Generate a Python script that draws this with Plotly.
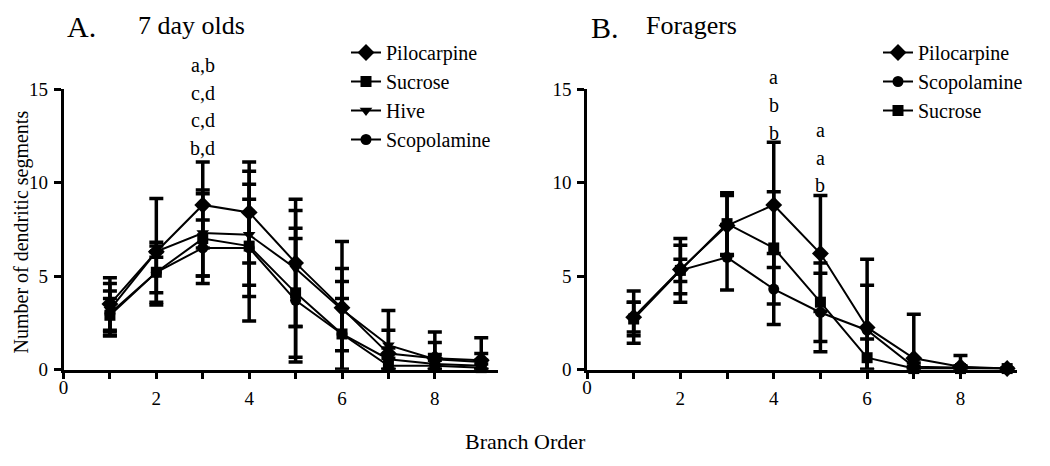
import numpy as np
import plotly.graph_objects as go

branch = [1, 2, 3, 4, 5, 6, 7, 8, 9]

# Panel A: 7 day olds
a_pilo = [3.5, 6.3, 8.8, 8.4, 5.7, 3.3, 0.85, 0.6, 0.5]
a_pilo_err = [1.4, 2.85, 2.3, 2.7, 3.4, 3.55, 1.25, 1.4, 1.2]
a_sucr = [2.9, 5.2, 7.0, 6.6, 4.1, 1.9, 0.2, 0.2, 0.1]
a_sucr_err = [0.9, 1.6, 2.4, 4.0, 3.45, 2.8, 0.4, 0.3, 0.2]
a_hive = [3.2, 6.3, 7.3, 7.2, 5.4, 3.2, 1.3, 0.55, 0.4]
a_hive_err = [1.4, 0.3, 2.3, 2.7, 3.1, 2.2, 1.85, 0.9, 0.45]
a_scop = [3.0, 5.2, 6.5, 6.5, 3.7, 1.9, 0.55, 0.3, 0.2]
a_scop_err = [1.2, 1.1, 1.5, 2.6, 3.3, 1.9, 0.6, 0.5, 0.3]

# Panel B: Foragers
b_pilo = [2.8, 5.35, 7.7, 8.8, 6.2, 2.25, 0.6, 0.15, 0.05]
b_pilo_err = [1.4, 1.3, 1.6, 3.35, 3.1, 3.65, 2.35, 0.6, 0.0]
b_scop = [2.8, 5.3, 6.0, 4.3, 3.05, 2.1, 0.15, 0.1, 0.05]
b_scop_err = [0.8, 0.6, 1.75, 1.9, 2.1, 2.4, 0.2, 0.1, 0.0]
b_sucr = [2.7, 5.3, 7.8, 6.5, 3.6, 0.63, 0.05, 0.05, 0.05]
b_sucr_err = [0.9, 1.7, 1.65, 3.0, 2.1, 1.0, 0.1, 0.1, 0.0]

x_ticks = [0, 1, 2, 3, 4, 5, 6, 7, 8]
x_labels_even = ["2", "4", "6", "8"]
y_ticks = [0, 5, 10, 15]

letters_a = ["a,b", "c,d", "c,d", "b,d"]
letters_b4 = ["a", "b", "b"]
letters_b5 = ["a", "a", "b"]

FONT = "Liberation Serif"
W, H = 1050, 466
OX, OY = 8, 8  # page body offset


def fx(px):
    return (px - OX) / W


def fy(py):
    return 1 - (py - OY) / H


fig = go.Figure()


def add_series(name, y, err, symbol, xa, ya, legend, msize=11):
    y = np.array(y, dtype=float)
    err = np.array(err, dtype=float)
    fig.add_trace(go.Scatter(
        x=branch, y=y, name=name, mode="lines+markers",
        xaxis=xa, yaxis=ya, legend=legend, legendgroup=legend + name,
        line=dict(color="black", width=2),
        marker=dict(symbol=symbol, size=msize, color="black"),
        error_y=dict(type="data", array=err, arrayminus=np.minimum(err, y),
                     color="black", thickness=3.5, width=7, symmetric=False),
        cliponaxis=False,
    ))


add_series("Pilocarpine", a_pilo, a_pilo_err, "diamond", "x", "y", "legend", 13)
add_series("Sucrose", a_sucr, a_sucr_err, "square", "x", "y", "legend")
add_series("Hive", a_hive, a_hive_err, "triangle-down", "x", "y", "legend")
add_series("Scopolamine", a_scop, a_scop_err, "circle", "x", "y", "legend")

add_series("Pilocarpine", b_pilo, b_pilo_err, "diamond", "x2", "y2", "legend2", 13)
add_series("Scopolamine", b_scop, b_scop_err, "circle", "x2", "y2", "legend2")
add_series("Sucrose", b_sucr, b_sucr_err, "square", "x2", "y2", "legend2")

ydom = [fy(369.5), fy(89)]
dom_a = [fx(63.5), fx(497.5)]
dom_b = [fx(587), fx(1016.5)]
rng_a = [0, 9.35]
rng_b = [0, 9.2]

axis_common = dict(showgrid=False, zeroline=False, showline=True, linecolor="black",
                   linewidth=2.5, ticks="outside", tickcolor="black", tickwidth=2.5,
                   ticklen=7, tickfont=dict(family=FONT, size=19, color="black"),
                   automargin=False)
label_axis = dict(showgrid=False, zeroline=False, showline=False, ticks="", side="bottom",
                  automargin=False, tickvals=[2, 4, 6, 8], ticktext=x_labels_even,
                  ticklabelstandoff=15, tickfont=dict(family=FONT, size=19, color="black"))

xlab0 = ["0"] + [""] * 8
fig.update_layout(
    xaxis=dict(domain=dom_a, range=rng_a, anchor="y", tickvals=x_ticks, ticktext=xlab0,
               ticklabelstandoff=-8, **axis_common),
    yaxis=dict(domain=ydom, range=[0, 15], anchor="x", tickvals=y_ticks,
               ticklabelstandoff=2, **axis_common),
    xaxis2=dict(domain=dom_b, range=rng_b, anchor="y2", tickvals=x_ticks, ticktext=xlab0,
                ticklabelstandoff=-8, **axis_common),
    yaxis2=dict(domain=ydom, range=[0, 15], anchor="x2", tickvals=y_ticks,
                ticklabelstandoff=2, **axis_common),
    xaxis3=dict(domain=dom_a, range=rng_a, anchor="y", overlaying="x", **label_axis),
    xaxis4=dict(domain=dom_b, range=rng_b, anchor="y2", overlaying="x2", **label_axis),
    width=W, height=H, margin=dict(l=0, r=0, t=0, b=0, pad=0, autoexpand=False),
    plot_bgcolor="white", paper_bgcolor="white", showlegend=True,
    legend=dict(x=fx(346), y=fy(33), xanchor="left", yanchor="top",
                font=dict(family=FONT, size=20, color="black"), tracegroupgap=0,
                bgcolor="rgba(0,0,0,0)", itemwidth=30),
    legend2=dict(x=fx(878), y=fy(33), xanchor="left", yanchor="top",
                 font=dict(family=FONT, size=20, color="black"), tracegroupgap=0,
                 bgcolor="rgba(0,0,0,0)", itemwidth=30),
)

# invisible traces so the overlay label axes render
fig.add_trace(go.Scatter(x=[None], y=[None], xaxis="x3", yaxis="y", showlegend=False,
                         hoverinfo="skip"))
fig.add_trace(go.Scatter(x=[None], y=[None], xaxis="x4", yaxis="y2", showlegend=False,
                         hoverinfo="skip"))

ann = []


def text_at(t, x, y, size, xanchor="left", yanchor="middle", **kw):
    ann.append(dict(text=t, x=fx(x), y=fy(y), xref="paper", yref="paper",
                    xanchor=xanchor, yanchor=yanchor, showarrow=False,
                    font=dict(family=FONT, size=size, color="black"), **kw))


# panel titles: box top at the top edge of the page so nothing is clipped
text_at("A.", 65, OY, 30, yanchor="top")
text_at("7 day olds", 136, OY + 1, 26, yanchor="top")
text_at("B.", 589, OY + 1, 30, yanchor="top")
text_at("Foragers", 644, OY + 1, 26, yanchor="top")
text_at("Number of dendritic segments", OX, 232, 20, xanchor="left", textangle=-90)
text_at("Branch Order", 525, 441, 22, xanchor="center")

for i, t in enumerate(letters_a):
    ann.append(dict(text=t, x=3, xref="x", y=fy(65 + 27.7 * i), yref="paper",
                    showarrow=False, xanchor="center", yanchor="middle",
                    font=dict(family=FONT, size=20, color="black")))
for i, t in enumerate(letters_b4):
    ann.append(dict(text=t, x=4, xref="x2", y=fy(77 + 28 * i), yref="paper",
                    showarrow=False, xanchor="center", yanchor="middle",
                    font=dict(family=FONT, size=20, color="black")))
for i, t in enumerate(letters_b5):
    ann.append(dict(text=t, x=5, xref="x2", y=fy(130 + 27.5 * i), yref="paper",
                    showarrow=False, xanchor="center", yanchor="middle",
                    font=dict(family=FONT, size=20, color="black")))

fig.update_layout(annotations=ann)
fig.write_html("out.html")
